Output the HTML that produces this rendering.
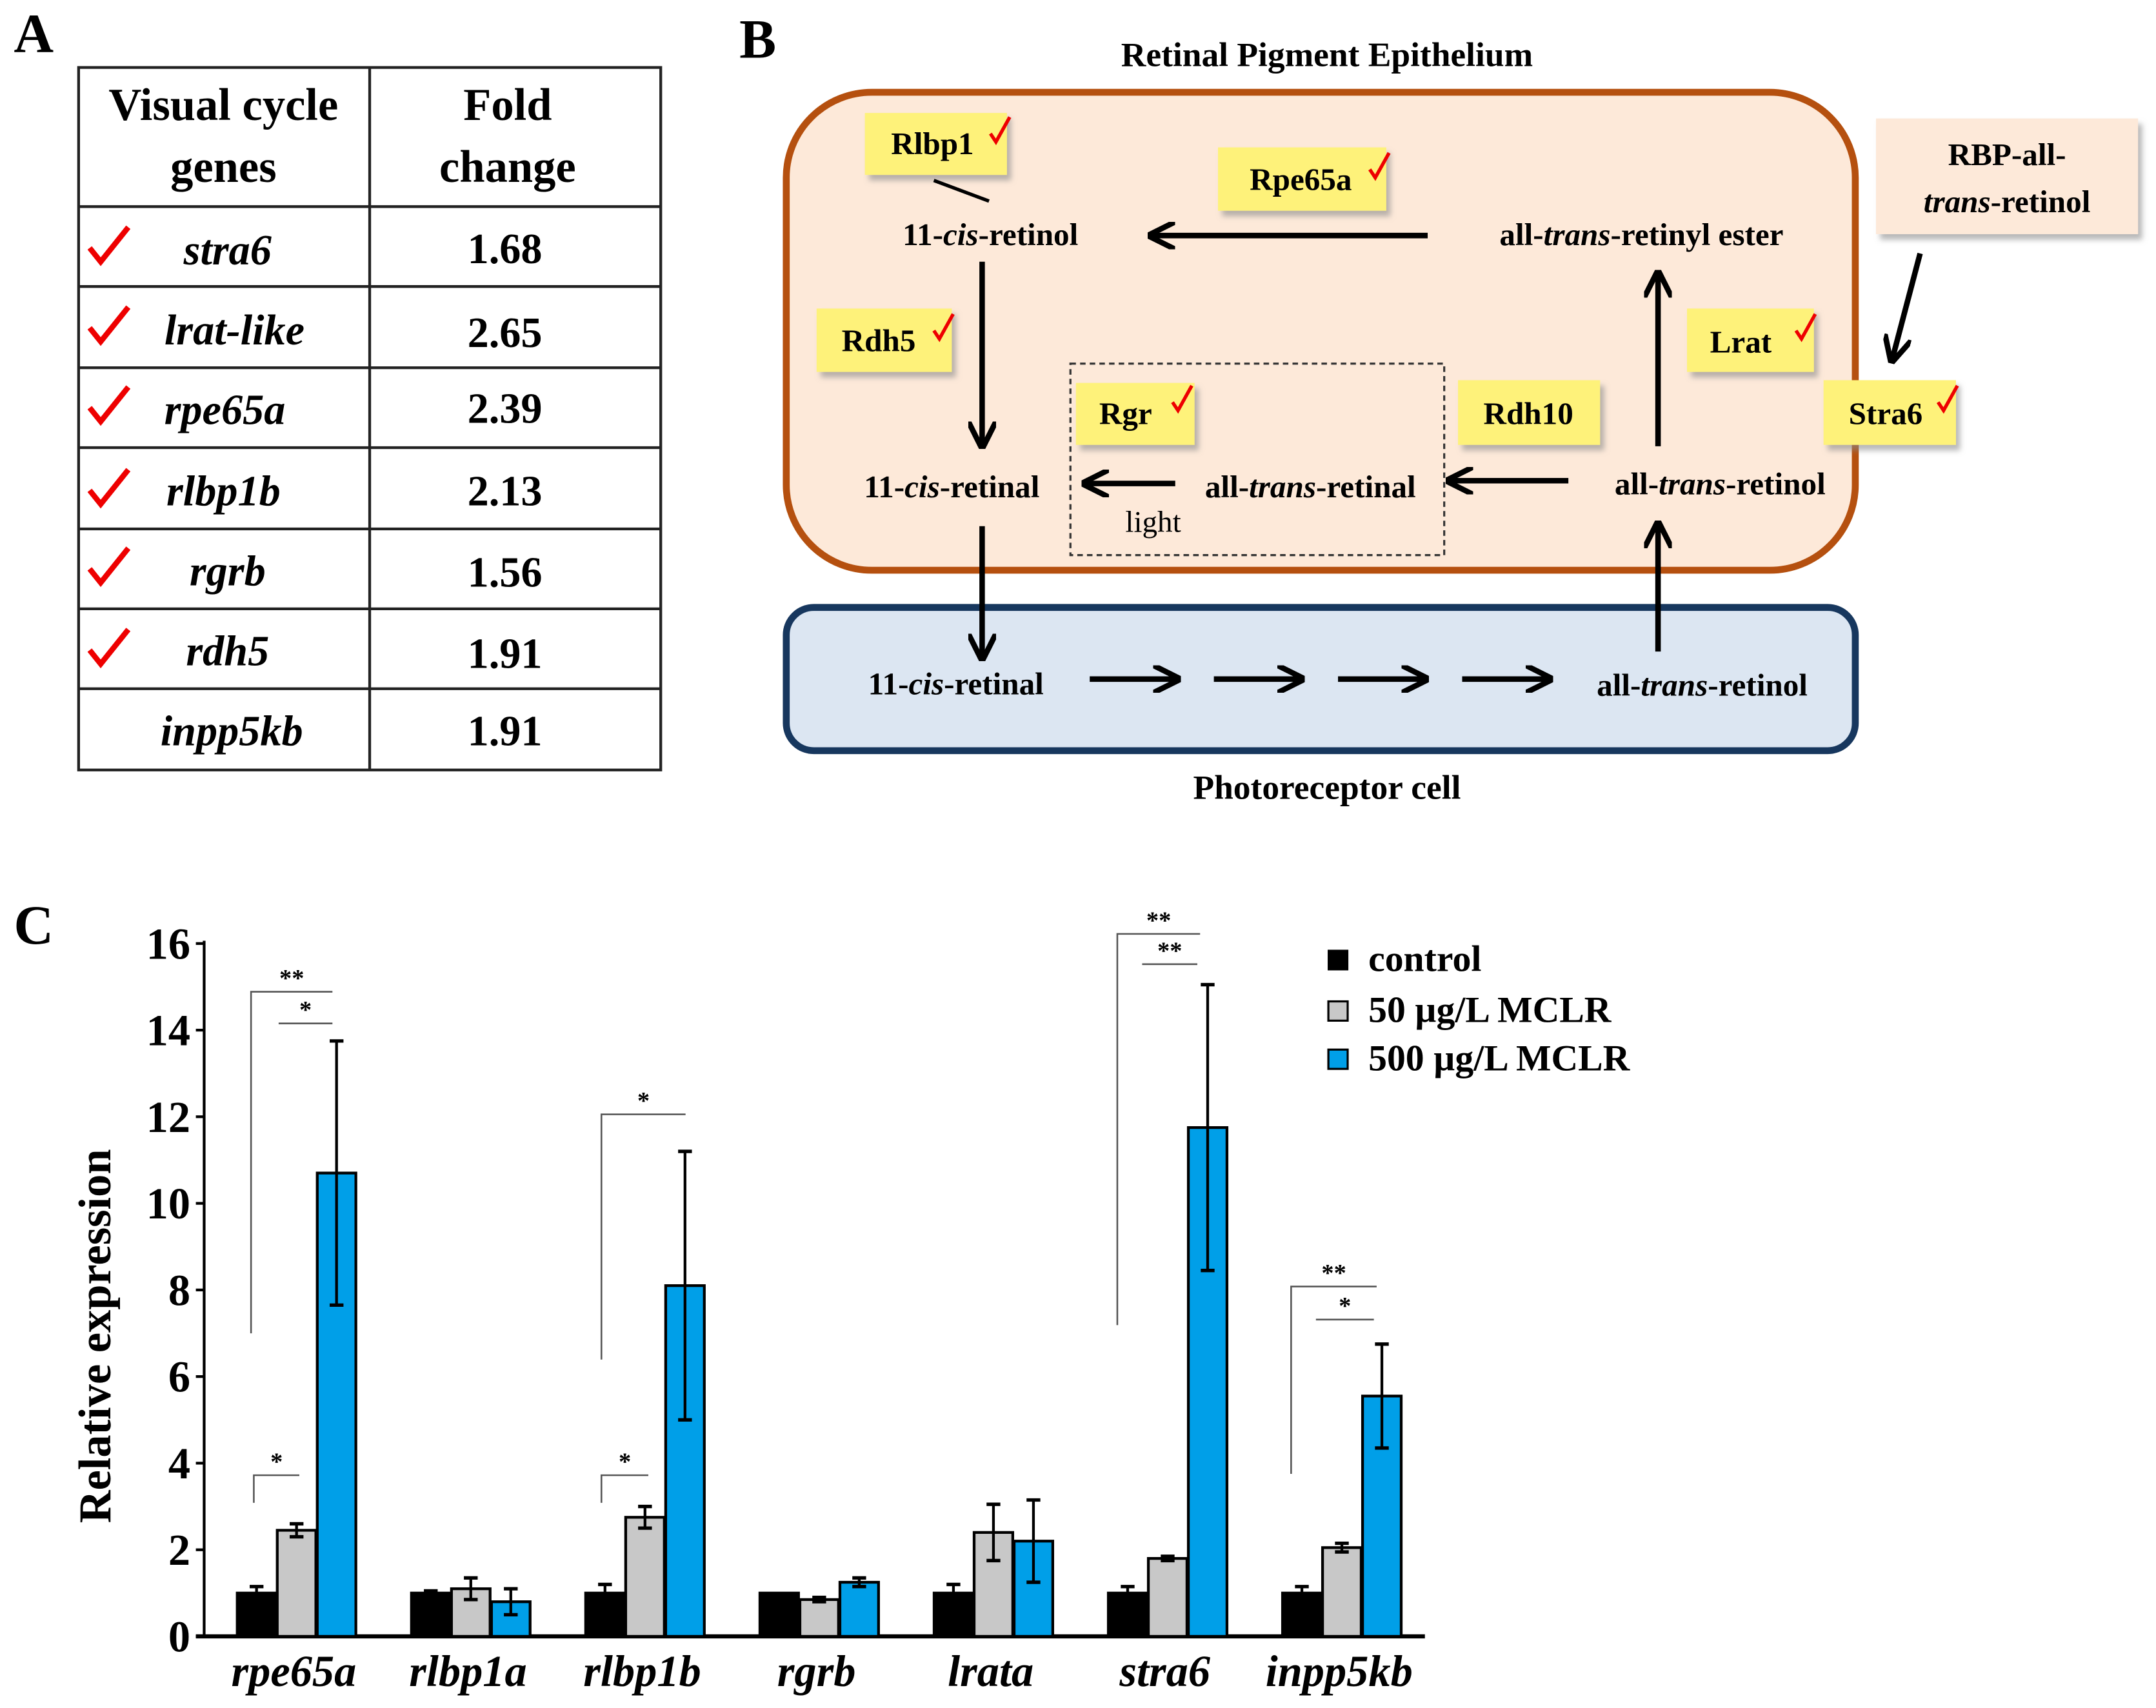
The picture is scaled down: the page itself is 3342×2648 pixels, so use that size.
<!DOCTYPE html>
<html><head><meta charset="utf-8"><style>
html,body{margin:0;padding:0;background:#fff;}
svg{display:block;}
text{font-family:"Liberation Serif",serif;}
</style></head><body>
<svg id="fig" width="3342" height="2648" viewBox="0 0 1563 1240" preserveAspectRatio="none" xmlns="http://www.w3.org/2000/svg">
<defs>
<marker id="ah" viewBox="0 0 10 10" refX="8" refY="5" markerWidth="5" markerHeight="5" orient="auto"><path d="M0,0 L10,5 L0,10" fill="none" stroke="#000" stroke-width="2"/></marker>
<filter id="sh" x="-10%" y="-10%" width="130%" height="140%"><feDropShadow dx="3" dy="4" stdDeviation="2" flood-color="#888" flood-opacity="0.6"/></filter>
</defs>
<!-- Panel A -->
<g>
<text x="10" y="38" font-size="40" font-weight="bold">A</text>
<g stroke="#222" stroke-width="2" fill="none">
<rect x="57" y="49" width="422" height="510"/>
<line x1="268" y1="49" x2="268" y2="559"/>
<line x1="57" y1="150" x2="479" y2="150"/><line x1="57" y1="208" x2="479" y2="208"/>
<line x1="57" y1="267" x2="479" y2="267"/><line x1="57" y1="325" x2="479" y2="325"/>
<line x1="57" y1="384" x2="479" y2="384"/><line x1="57" y1="442" x2="479" y2="442"/>
<line x1="57" y1="500" x2="479" y2="500"/>
</g>
<g font-size="33" font-weight="bold" text-anchor="middle">
<text x="162" y="87">Visual cycle</text>
<text x="162" y="132">genes</text>
<text x="368" y="87">Fold</text>
<text x="368" y="132">change</text>
</g>
<g font-size="31" font-weight="bold" font-style="italic" text-anchor="middle">
<text x="165" y="192">stra6</text><text x="170" y="250">lrat-like</text><text x="163" y="308">rpe65a</text>
<text x="162" y="367">rlbp1b</text><text x="165" y="425">rgrb</text><text x="165" y="483">rdh5</text><text x="168" y="541">inpp5kb</text>
</g>
<g font-size="31" font-weight="bold" text-anchor="middle">
<text x="366" y="191">1.68</text><text x="366" y="252">2.65</text><text x="366" y="307">2.39</text>
<text x="366" y="367">2.13</text><text x="366" y="426">1.56</text><text x="366" y="485">1.91</text><text x="366" y="541">1.91</text>
</g>
<g stroke="#e00" stroke-width="4" fill="none">
<path d="M65,180 l8,10 l20,-25"/><path d="M65,238 l8,10 l20,-25"/><path d="M65,296 l8,10 l20,-25"/>
<path d="M65,356 l8,10 l20,-25"/><path d="M65,413 l8,10 l20,-25"/><path d="M65,472 l8,10 l20,-25"/>
</g>
</g>
<!-- Panel B -->
<g>
<text x="536" y="42" font-size="40" font-weight="bold">B</text>
<text x="962" y="48" font-size="25" font-weight="bold" text-anchor="middle">Retinal Pigment Epithelium</text>
<rect x="570" y="67" width="775" height="347" rx="62" fill="#fde9d9" stroke="#b5500f" stroke-width="5"/>
<rect x="570" y="441" width="775" height="104" rx="20" fill="#dce6f2" stroke="#17375e" stroke-width="5"/>
<text x="962" y="580" font-size="25" font-weight="bold" text-anchor="middle">Photoreceptor cell</text>
<rect x="776" y="264" width="271" height="139" fill="none" stroke="#333" stroke-width="1.5" stroke-dasharray="4,3"/>
<g fill="#fef27a" filter="url(#sh)">
<rect x="627" y="82" width="103" height="45"/>
<rect x="883" y="107" width="122" height="46"/>
<rect x="592" y="224" width="98" height="46"/>
<rect x="780" y="278" width="86" height="45"/>
<rect x="1057" y="276" width="103" height="47"/>
<rect x="1223" y="224" width="92" height="46"/>
<rect x="1322" y="276" width="96" height="47"/>
<rect x="1360" y="86" width="190" height="84" fill="#fde9d9"/>
</g>
<g font-size="23" font-weight="bold" text-anchor="middle">
<text x="676" y="112">Rlbp1</text><text x="943" y="138">Rpe65a</text><text x="637" y="255">Rdh5</text>
<text x="816" y="308">Rgr</text><text x="1108" y="308">Rdh10</text><text x="1262" y="256">Lrat</text><text x="1367" y="308">Stra6</text>
<text x="1455" y="120">RBP-all-</text><text x="1455" y="154"><tspan font-style="italic">trans</tspan>-retinol</text>
<text x="718" y="178">11-<tspan font-style="italic">cis</tspan>-retinol</text>
<text x="1190" y="178">all-<tspan font-style="italic">trans</tspan>-retinyl ester</text>
<text x="690" y="361">11-<tspan font-style="italic">cis</tspan>-retinal</text>
<text x="950" y="361">all-<tspan font-style="italic">trans</tspan>-retinal</text>
<text x="1247" y="359">all-<tspan font-style="italic">trans</tspan>-retinol</text>
<text x="693" y="504">11-<tspan font-style="italic">cis</tspan>-retinal</text>
<text x="1234" y="505">all-<tspan font-style="italic">trans</tspan>-retinol</text>
</g>
<text x="836" y="386" font-size="22" text-anchor="middle">light</text>
<g stroke="#e00" stroke-width="2.5" fill="none">
<path d="M718,97 l4,6 l10,-18"/><path d="M993,123 l4,6 l10,-18"/><path d="M677,240 l4,6 l10,-18"/>
<path d="M850,292 l4,6 l10,-18"/><path d="M1302,240 l4,6 l10,-18"/><path d="M1405,292 l4,6 l10,-18"/>
</g>
<g stroke="#000" stroke-width="4" fill="none" marker-end="url(#ah)">
<line x1="1035" y1="171" x2="836" y2="171"/>
<line x1="712" y1="190" x2="712" y2="322"/>
<line x1="712" y1="382" x2="712" y2="476"/>
<line x1="1202" y1="324" x2="1202" y2="200"/>
<line x1="1202" y1="473" x2="1202" y2="382"/>
<line x1="852" y1="351" x2="788" y2="351"/>
<line x1="1137" y1="349" x2="1052" y2="349"/>
<line x1="1392" y1="184" x2="1372" y2="260"/>
<line x1="790" y1="493" x2="852" y2="493"/>
<line x1="880" y1="493" x2="942" y2="493"/>
<line x1="970" y1="493" x2="1032" y2="493"/>
<line x1="1060" y1="493" x2="1122" y2="493"/>
</g>
<line x1="677" y1="131" x2="717" y2="146" stroke="#000" stroke-width="2.5"/>
</g>
<!-- Panel C -->
<g id="chart">
<text x="10" y="685" font-size="40" font-weight="bold">C</text>
<text transform="translate(80,970) rotate(-90)" font-size="33" font-weight="bold" text-anchor="middle">Relative expression</text>
<g font-size="27" font-weight="bold">
<rect x="963" y="690" width="14" height="14" fill="#000" stroke="#000"/>
<text x="992" y="705">control</text>
<rect x="963" y="727" width="14" height="14" fill="#c8c8c8" stroke="#000" stroke-width="1.5"/>
<text x="992" y="742">50 µg/L MCLR</text>
<rect x="963" y="762" width="14" height="14" fill="#009fe8" stroke="#000" stroke-width="1.5"/>
<text x="992" y="777">500 µg/L MCLR</text>
</g>
</g>
</svg>
<script>
const categories=["rpe65a","rlbp1a","rlbp1b","rgrb","lrata","stra6","inpp5kb"];
const controlVals=[1.0,1.0,1.0,1.0,1.0,1.0,1.0];
const controlErr=[0.15,0.05,0.2,0.0,0.2,0.15,0.15];
const lowVals=[2.45,1.1,2.75,0.85,2.4,1.8,2.05];
const lowErr=[0.15,0.25,0.25,0.05,0.65,0.05,0.1];
const highVals=[10.7,0.8,8.1,1.25,2.2,11.75,5.55];
const highErr=[3.05,0.3,3.1,0.1,0.95,3.3,1.2];
const yTicks=[0,2,4,6,8,10,12,14,16];
const seriesColors=["#000","#c8c8c8","#009fe8"];
const NS="http://www.w3.org/2000/svg";
const g=document.getElementById('chart');
const X0=148,X1=1033,Y0=1188,Y16=685;
const y=v=>Y0-(v/16)*(Y0-Y16);
const groupX=i=>215+i*126.3;
const BW=28;
function mk(tag,attrs){const e=document.createElementNS(NS,tag);for(const k in attrs)e.setAttribute(k,attrs[k]);g.appendChild(e);return e;}
let ax=mk('line',{x1:X0,y1:Y16-2,x2:X0,y2:Y0,stroke:'#000','stroke-width':2});


let xa=mk('line',{x1:X0-6,y1:Y0,x2:X1,y2:Y0,stroke:'#000','stroke-width':3});


yTicks.forEach(t=>{
  mk('line',{x1:X0-6,y1:y(t),x2:X0,y2:y(t),stroke:'#000','stroke-width':2});
  const tx=mk('text',{x:X0-10,y:y(t)+11,'font-size':32,'font-weight':'bold','text-anchor':'end'});
  tx.textContent=t;
  
  
});
const series=[[controlVals,controlErr],[lowVals,lowErr],[highVals,highErr]];
categories.forEach((c,i)=>{
  series.forEach((s,j)=>{
    const cx=groupX(i)+(j-1)*(BW+1);
    const v=s[0][i],e=s[1][i];
    const r=mk('rect',{x:cx-BW/2,y:y(v),width:BW,height:Y0-y(v),fill:seriesColors[j],stroke:'#000','stroke-width':2});
    
    
    if(e>0){
      mk('line',{x1:cx,y1:y(v+e),x2:cx,y2:y(v-e),stroke:'#000','stroke-width':2});
      mk('line',{x1:cx-5,y1:y(v+e),x2:cx+5,y2:y(v+e),stroke:'#000','stroke-width':2.5});
      mk('line',{x1:cx-5,y1:y(v-e),x2:cx+5,y2:y(v-e),stroke:'#000','stroke-width':2.5});
    }
  });
  const lb=mk('text',{x:groupX(i)-2,y:1224,'font-size':32,'font-weight':'bold','font-style':'italic','text-anchor':'middle'});
  lb.textContent=c;
  
  
});
// significance brackets
function br(xa,xb,yy,ylow,lbl,grey){
  mk('polyline',{points:`${xa},${ylow} ${xa},${yy} ${xb},${yy}`,fill:'none',stroke:grey?'#888':'#555','stroke-width':1.2});
  const t=mk('text',{x:(xa+xb)/2,y:yy-4,'font-size':18,'font-weight':'bold','text-anchor':'middle'});
  t.textContent=lbl;
  
  
}
br(182,241,720,968,'**');br(202,241,743,743,'*');br(184,217,1071,1091,'*');
br(436,497,809,987,'*');br(436,470,1071,1091,'*');
br(810,870,678,962,'**');br(828,868,700,700,'**');
br(936,998,934,1070,'**');br(954,996,958,958,'*');
</script>
</body></html>
